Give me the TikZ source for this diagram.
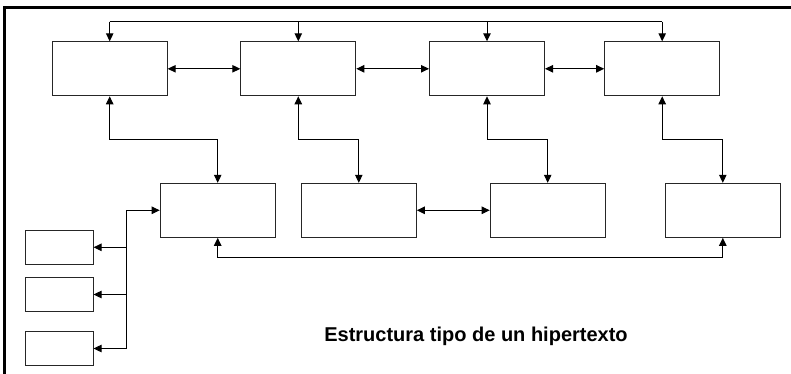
\documentclass[tikz,border=0pt]{standalone}
\usepackage{fontspec}
\setmainfont{Liberation Sans}
\usetikzlibrary{arrows.meta}
\newcommand{\pxu}{0.75pt}
\tikzset{
  box/.style={draw=black!85, line width=0.75pt, rectangle, inner sep=0pt, fill=white},
  bigbox/.style={box, minimum width=115*\pxu, minimum height=54*\pxu},
  smallbox/.style={box, minimum width=67.7*\pxu, minimum height=34*\pxu},
  conn/.style={draw=black, line width=0.75pt},
  arr/.style={conn, -{Triangle[length=6pt,width=5.6pt]}},
  dbl/.style={conn, {Triangle[length=6pt,width=5.6pt]}-{Triangle[length=6pt,width=5.6pt]}},
  frame/.style={draw=black, line width=1.8pt},
  caption/.style={font=\fontsize{15pt}{18pt}\selectfont\bfseries, inner sep=0pt, anchor=base}
}
\begin{document}
\begin{tikzpicture}[x=0.75pt, y=-0.75pt]
\useasboundingbox (0,0) rectangle (791,374);
% frame (top and left edges)
\coordinate (fBL) at (4.3,376);
\coordinate (fTL) at (4.3,7.5);
\coordinate (fTR) at (793,7.5);
\draw[frame] (fBL) -- (fTL) -- (fTR);
% top row
\node[bigbox] (T1) at (109.7,68.8) {};
\node[bigbox] (T2) at (298.3,68.8) {};
\node[bigbox] (T3) at (487,68.8) {};
\node[bigbox] (T4) at (662.2,68.8) {};
% bottom row
\node[bigbox] (B1) at (217.7,210.3) {};
\node[bigbox] (B2) at (358.8,210.3) {};
\node[bigbox] (B3) at (547.7,210.3) {};
\node[bigbox] (B4) at (722.8,210.3) {};
% small boxes
\node[smallbox] (S1) at (59.2,247.3) {};
\node[smallbox] (S2) at (59.2,294.5) {};
\node[smallbox] (S3) at (59.2,348.5) {};
% helper rows
\coordinate (bus) at (0,21.7);
\coordinate (mid) at (0,139.3);
\coordinate (low) at (0,257.3);
\coordinate (trunk) at (126.3,0);
% top bus
\draw[conn] (T1.north |- bus) -- (T4.north |- bus);
\draw[arr] (T1.north |- bus) -- (T1.north);
\draw[arr] (T2.north |- bus) -- (T2.north);
\draw[arr] (T3.north |- bus) -- (T3.north);
\draw[arr] (T4.north |- bus) -- (T4.north);
% top row links
\draw[dbl] (T1.east) -- (T2.west);
\draw[dbl] (T2.east) -- (T3.west);
\draw[dbl] (T3.east) -- (T4.west);
% top-to-bottom links
\draw[dbl] (T1.south) -- (T1.south |- mid) -| (B1.north);
\draw[dbl] (T2.south) -- (T2.south |- mid) -| (B2.north);
\draw[dbl] (T3.south) -- (T3.south |- mid) -| (B3.north);
\draw[dbl] (T4.south) -- (T4.south |- mid) -| (B4.north);
% bottom links
\draw[dbl] (B2.east) -- (B3.west);
\draw[dbl] (B1.south) -- (B1.south |- low) -| (B4.south);
% trunk to small boxes
\draw[conn] (trunk |- B1.west) -- (trunk |- S3.east);
\draw[arr] (trunk |- B1.west) -- (B1.west);
\draw[arr] (trunk |- S1.east) -- (S1.east);
\draw[arr] (trunk |- S2.east) -- (S2.east);
\draw[arr] (trunk |- S3.east) -- (S3.east);
% caption
\node[caption] (title) at (476,341) {Estructura tipo de un hipertexto};
\end{tikzpicture}
\end{document}
